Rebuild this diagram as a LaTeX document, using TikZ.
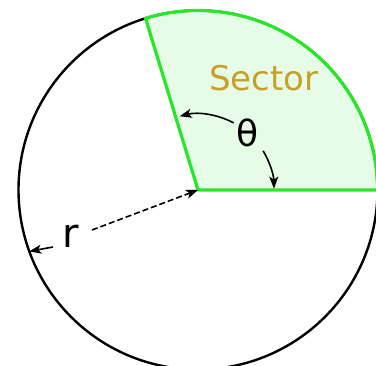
\documentclass[tikz,border=0pt]{standalone}
\usepackage{fontspec}
\setmainfont{DejaVu Sans}
\usetikzlibrary{arrows.meta,calc}
\definecolor{secfill}{RGB}{230,252,230}
\definecolor{secline}{RGB}{40,230,40}
\definecolor{gold}{RGB}{200,160,40}
\tikzset{
  rim/.style={draw=black,line width=2.4pt},
  secedge/.style={draw=secline,line width=3.2pt},
  arr/.style={-{Stealth[length=12pt,width=9pt,inset=3pt]},line width=1.6pt},
  lbl/.style={inner sep=0pt}
}
\begin{document}
\begin{tikzpicture}[x=1pt,y=1pt]
\useasboundingbox (0,0) rectangle (376,366);
\clip (0,0) rectangle (376,366);
\coordinate (C) at (198,176);
\fill[secfill] (C) -- ++(0:179.5) arc (0:107:179.5) -- cycle;
\draw[rim] (C) circle (179.5);
\draw[secedge,line join=round] (C) -- ++(107:179.5) arc (107:0:179.5) -- cycle;
\node[lbl,text=gold,font=\fontsize{34}{34}\selectfont] (sec) at (264,288) {Sector};
\node[lbl,font=\fontsize{36}{36}\selectfont] (th) at (248,233) {θ};
\draw[arr] ([shift={(62:76)}]C) arc (62:104:76);
\draw[arr] ([shift={(31:76)}]C) arc (31:1:76);
\node[lbl,font=\fontsize{40}{40}\selectfont] (r) at (71,130) {r};
\coordinate (rs) at (92,136);
\coordinate (rl) at (53,119);
\coordinate (rim1) at ($(C)+(200:179.5)$);
\draw[arr,dash pattern=on 6pt off 3pt] (rs) -- (C);
\draw[arr] (rl) -- (rim1);
\end{tikzpicture}
\end{document}
